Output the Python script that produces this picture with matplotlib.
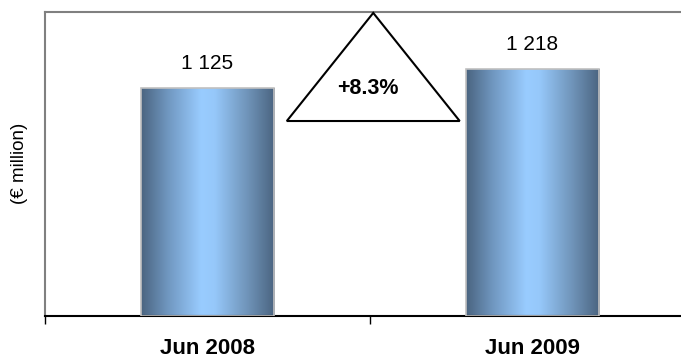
import numpy as np
import matplotlib
matplotlib.use("Agg")
import matplotlib.pyplot as plt
from matplotlib.colors import LinearSegmentedColormap
from matplotlib.patches import Polygon

categories = ["Jun 2008", "Jun 2009"]
values = [1125, 1218]
value_labels = ["1 125", "1 218"]
growth_label = "+8.3%"
ylabel = "(\u20ac million)"

plt.rcParams['font.family'] = ['Liberation Sans', 'DejaVu Sans']

W, H = 681, 358
fig = plt.figure(figsize=(W / 100, H / 100), dpi=100)
ax = fig.add_axes([45 / W, 1 - 316 / H, 650 / W, (316 - 12) / H])

x = np.arange(len(categories))
bw = 0.41
ax.set_xlim(-0.5, len(categories) - 0.5)
ax.set_ylim(0, 1500)

cmap = LinearSegmentedColormap.from_list(
    "bar", [(0.0, "#4a6480"), (0.2, "#7097c0"), (0.45, "#99ccff"),
            (0.55, "#96c8fa"), (0.8, "#6f93b8"), (1.0, "#4a6480")])
grad = np.linspace(0, 1, 256).reshape(1, -1)

bars = ax.bar(x, values, width=bw, color="none", edgecolor="#c0c0c0",
              linewidth=1.2, zorder=3)
for b in bars:
    x0, w, h = b.get_x(), b.get_width(), b.get_height()
    im = ax.imshow(grad, cmap=cmap, aspect="auto",
                   extent=[x0, x0 + w, 0, h], zorder=2, interpolation="bicubic")
    im.set_clip_path(b)

for xi, v, lab in zip(x, values, value_labels):
    ax.annotate(lab, (xi, v), xytext=(0, 11), textcoords="offset points",
                ha="center", va="bottom", fontsize=15, color="black")

# growth triangle (axes coordinates)
tri = Polygon([(0.372, 0.6414), (0.505, 0.997), (0.638, 0.6414)], closed=True,
              facecolor="white", edgecolor="black", linewidth=1.5, zorder=4,
              transform=ax.transAxes, clip_on=False)
ax.add_patch(tri)
ax.text(0.497, 1 - (89 - 12) / 304, growth_label, transform=ax.transAxes,
        ha="center", va="center", fontsize=15.5, fontweight="bold", zorder=5)

ax.set_xticks([-0.5, 0.5, 1.5])
ax.set_xticklabels([])
ax.set_xticks(x, minor=True)
ax.set_xticklabels(categories, minor=True, fontsize=16, fontweight="bold")
ax.tick_params(axis="x", which="major", length=6, width=1, color="black", direction="out")
ax.tick_params(axis="x", which="minor", length=0, pad=16)
ax.set_yticks([])

for s in ["top", "left", "right"]:
    ax.spines[s].set_color("#808080")
    ax.spines[s].set_linewidth(1.5)
ax.spines["bottom"].set_color("black")
ax.spines["bottom"].set_linewidth(1.5)

fig.text(20 / W, 1 - 163 / H, ylabel, rotation=90, ha="center", va="center",
         fontsize=13.5)

fig.savefig("out.png", dpi=100)
